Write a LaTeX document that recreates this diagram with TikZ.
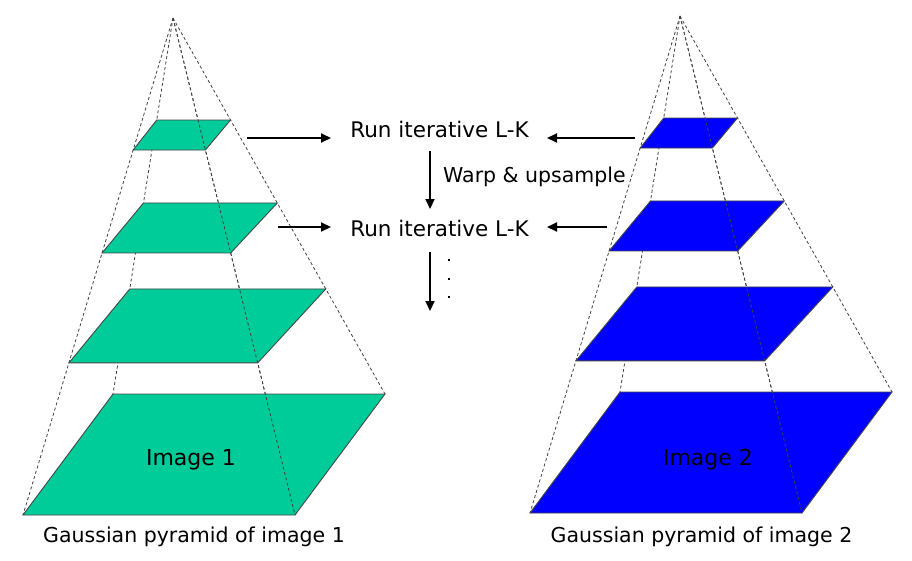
\documentclass[tikz,border=0pt]{standalone}
\usepackage{fontspec}
\setmainfont{DejaVu Sans}
\usetikzlibrary{arrows.meta,calc}
\definecolor{pgreen}{RGB}{0,204,153}
\definecolor{pblue}{RGB}{0,0,255}
\definecolor{edgegray}{RGB}{70,70,70}
\tikzset{
  guide/.style={draw=black!75,line width=0.8pt,dash pattern=on 3pt off 2.5pt},
  face/.style={draw=edgegray,line width=0.9pt},
  flow/.style={draw=black,line width=2pt,-{Triangle[length=10pt,width=9pt]}},
  lbl/.style={inner sep=0pt,anchor=base,font=\fontsize{20.5}{24}\selectfont},
  bigl/.style={inner sep=0pt,anchor=base,font=\fontsize{22}{26}\selectfont},
}
% #1 = name prefix, #2 = fill colour
\newcommand{\mypyramid}[2]{%
  \coordinate (#1A) at (173,18);
  \coordinate (#1BL) at (23,515);
  \coordinate (#1BR) at (295,515);
  \coordinate (#1TL) at (113,394);
  \coordinate (#1TR) at (385,394);
  \draw[guide] (#1A) -- (#1BL);
  \draw[guide] (#1A) -- (#1TL);
  \draw[guide] (#1A) -- (#1TR);
  \draw[guide] (#1A) -- (#1BR);
  \foreach \tf/\tb in {0.2656/0.2713, 0.4728/0.492, 0.694/0.7207, 1/1}{%
    \fill[#2] ($(#1A)!\tf!(#1BL)$) -- ($(#1A)!\tf!(#1BR)$) -- ($(#1A)!\tb!(#1TR)$) -- ($(#1A)!\tb!(#1TL)$) -- cycle;
    \draw[face] ($(#1A)!\tf!(#1BL)$) -- ($(#1A)!\tf!(#1BR)$) -- ($(#1A)!\tb!(#1TR)$) -- ($(#1A)!\tb!(#1TL)$) -- cycle;
  }
  \draw[guide] (#1A) -- (#1BR);
}
\begin{document}
\begin{tikzpicture}[x=1pt,y=-1pt]
\useasboundingbox (0,0) rectangle (912,560);
\begin{scope}
  \mypyramid{L}{pgreen}
\end{scope}
\begin{scope}[shift={(507,-2)}]
  \mypyramid{R}{pblue}
\end{scope}

% labels
\node[bigl] (img1) at (191,465) {Image 1};
\node[bigl] (img2) at (708,465) {Image 2};
\node[lbl] (cap1) at (194,542) {Gaussian pyramid of image 1};
\node[lbl] (cap2) at (701.5,542) {Gaussian pyramid of image 2};

\node[lbl,font=\fontsize{21.5}{25}\selectfont] (run1) at (439.5,137) {Run iterative L-K};
\node[lbl,font=\fontsize{21.5}{25}\selectfont] (run2) at (439.5,236.5) {Run iterative L-K};
\node[lbl] (warp) at (534.5,182.5) {Warp \& upsample};

% arrow end points
\coordinate (l1s) at (247,138);
\coordinate (l1e) at (331,138);
\coordinate (r1s) at (635,138);
\coordinate (r1e) at (547,138);
\coordinate (l2s) at (278,227);
\coordinate (l2e) at (331,227);
\coordinate (r2s) at (607,227);
\coordinate (r2e) at (547,227);
\coordinate (v1s) at (430,151);
\coordinate (v1e) at (430,209);
\coordinate (v2s) at (430,252);
\coordinate (v2e) at (430,311);

\draw[flow] (l1s) -- (l1e);
\draw[flow] (r1s) -- (r1e);
\draw[flow] (l2s) -- (l2e);
\draw[flow] (r2s) -- (r2e);
\draw[flow] (v1s) -- (v1e);
\draw[flow] (v2s) -- (v2e);

% continuation dots
\node[fill=black,minimum size=2.4pt,inner sep=0pt] (d1) at (449,260) {};
\node[fill=black,minimum size=2.4pt,inner sep=0pt] (d2) at (449,279) {};
\node[fill=black,minimum size=2.4pt,inner sep=0pt] (d3) at (449,297) {};
\end{tikzpicture}
\end{document}
